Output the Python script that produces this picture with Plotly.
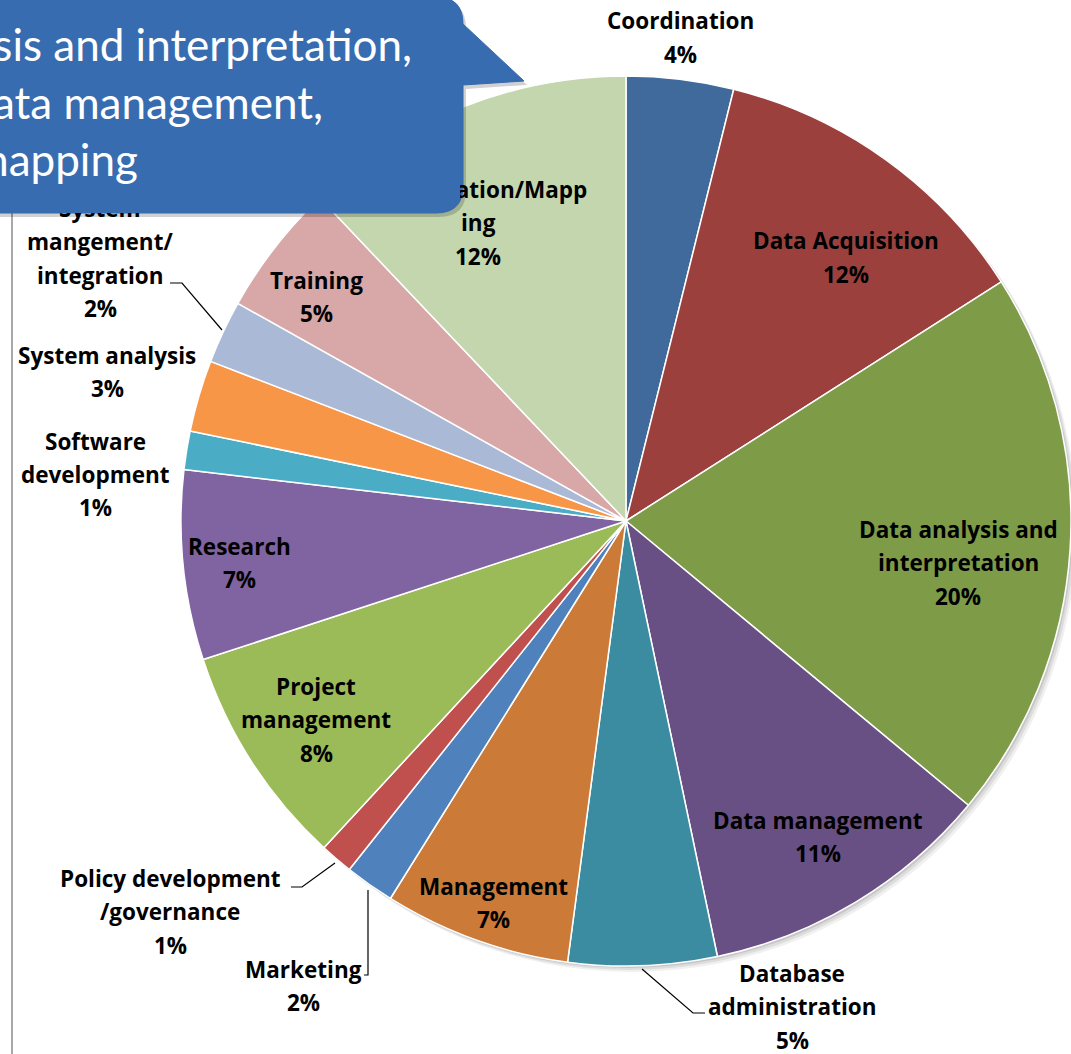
import plotly.graph_objects as go

W, H = 1071, 1054

# ---------------- data ----------------
categories = [
    "Coordination", "Data Acquisition", "Data analysis and interpretation",
    "Data management", "Database administration", "Management", "Marketing",
    "Policy development/governance", "Project management", "Research",
    "Software development", "System analysis", "System mangement/integration",
    "Training", "Visualization/Mapping",
]
values = [3.9, 12.1, 20.1, 10.7, 5.4, 6.8, 1.8, 1.2, 8.1, 6.9, 1.4, 2.6, 2.3, 4.8, 12.1]
pct_labels = ["4%", "12%", "20%", "11%", "5%", "7%", "2%", "1%", "8%", "7%", "1%", "3%", "2%", "5%", "12%"]
colors = [
    "#40699C", "#9C403E", "#7E9B48", "#695084", "#3B8BA1", "#CC7A37", "#4F81BD",
    "#C0504D", "#9BBB59", "#8064A2", "#4BACC6", "#F79646", "#AAB9D6", "#D8A7A7", "#C4D6AD",
]
# how each category label wraps (text), followed by its percentage
label_lines = [
    ["Coordination"],
    ["Data Acquisition"],
    ["Data analysis and", "interpretation"],
    ["Data management"],
    ["Database", "administration"],
    ["Management"],
    ["Marketing"],
    ["Policy development", "/governance"],
    ["Project", "management"],
    ["Research"],
    ["Software", "development"],
    ["System analysis"],
    ["System", "mangement/", "integration"],
    ["Training"],
    ["Visualization/Mapp", "ing"],
]
callout_lines = ["Data analysis and interpretation,", "Data management,", "Visualization/mapping"]

# ---------------- layout helpers (pixel -> paper) ----------------
def px(x):
    return x / W

def py(y):
    return 1 - y / H

label_pos = [  # centre x, first-line y (pixels)
    (680, 21), (846, 241), (958, 529), (818, 820), (792, 973), (493, 886),
    (303, 969), (170, 878), (316, 686), (239, 546), (95, 441), (107, 355),
    (100, 208), (316, 280), (478, 189),
]
LINE = 33.5
LABEL_FONT = dict(family="Open Sans", size=22.5, color="black")
CALLOUT = "#376CB0"

CX, CY, R = 626, 521, 445

fig = go.Figure()
fig.add_trace(go.Pie(
    labels=categories, values=values, sort=False, direction="clockwise", rotation=0,
    marker=dict(colors=colors, line=dict(color="white", width=1.5)),
    textinfo="none", hoverinfo="label+percent", showlegend=False,
    domain=dict(x=[(CX - R) / W, 1], y=[(H - CY - R) / H, (H - CY + R) / H]),
))

shapes = []
# soft pie shadow
for off, a in [(6, 0.06), (4, 0.08), (2, 0.10)]:
    shapes.append(dict(type="circle", xref="paper", yref="paper", layer="below",
                       x0=px(CX - R + off), x1=px(CX + R + off),
                       y0=py(CY + R + off), y1=py(CY - R + off),
                       fillcolor=f"rgba(0,0,0,{a})", line=dict(width=0)))
# gray vertical rule at left
shapes.append(dict(type="line", xref="paper", yref="paper", x0=px(12), x1=px(12),
                   y0=py(213), y1=py(H), line=dict(color="#8c8c8c", width=1.5)))

def path(points, close=False):
    s = "M " + " L ".join(f"{px(x):.5f},{py(y):.5f}" for x, y in points)
    return s + (" Z" if close else "")

leaders = [
    [(222, 330), (182, 283), (170, 283)],
    [(642, 969), (693, 1013), (705, 1013)],
    [(368, 890), (368, 975), (364, 975)],
    [(335, 863), (302, 887), (291, 887)],
]
for pts in leaders:
    shapes.append(dict(type="path", xref="paper", yref="paper", path=path(pts),
                       line=dict(color="black", width=1.2), layer="above"))

def callout_path(dx=0, dy=0):
    def P(x, y):
        return f"{px(x + dx):.5f},{py(y + dy):.5f}"
    return (f"M {P(-20,-3)} L {P(436,-3)} Q {P(463,-3)} {P(463,24)} L {P(524,81)} "
            f"L {P(463,85)} L {P(463,186)} Q {P(463,213)} {P(436,213)} L {P(-20,213)} Z")

shapes.append(dict(type="path", xref="paper", yref="paper", path=callout_path(3, 4),
                   fillcolor="rgba(0,0,0,0.18)", line=dict(width=0), layer="above"))
shapes.append(dict(type="path", xref="paper", yref="paper", path=callout_path(),
                   fillcolor=CALLOUT, line=dict(color="#3469AC", width=1), layer="above"))

annotations = []
for lines, pct, (x, y0) in zip(label_lines, pct_labels, label_pos):
    for i, t in enumerate(lines + [pct]):
        annotations.append(dict(x=px(x), y=py(y0 + i * LINE), xref="paper", yref="paper",
                                text=f"<b>{t}</b>", showarrow=False, font=LABEL_FONT,
                                xanchor="center", yanchor="middle"))
# masks: hide label parts that sit behind the callout
for (x0, y0, w, h) in [(0, 130, 460, 70), (0, 190, 440, 22.5)]:
    annotations.append(dict(x=px(x0), y=py(y0), xref="paper", yref="paper", text=" ",
                            showarrow=False, xanchor="left", yanchor="top",
                            width=w, height=h, bgcolor=CALLOUT, borderpad=0, borderwidth=0))
# callout text (right ends)
for t, xr, yc in zip(callout_lines, [414, 325, 140], [44, 102, 159]):
    annotations.append(dict(x=px(xr), y=py(yc), xref="paper", yref="paper", text=t,
                            showarrow=False, xanchor="right", yanchor="middle",
                            font=dict(family="Lato", size=44, color="white")))

fig.update_layout(width=W, height=H, margin=dict(l=0, r=0, t=0, b=0),
                  paper_bgcolor="white", plot_bgcolor="white",
                  shapes=shapes, annotations=annotations, showlegend=False)
fig.write_html("out.html")
